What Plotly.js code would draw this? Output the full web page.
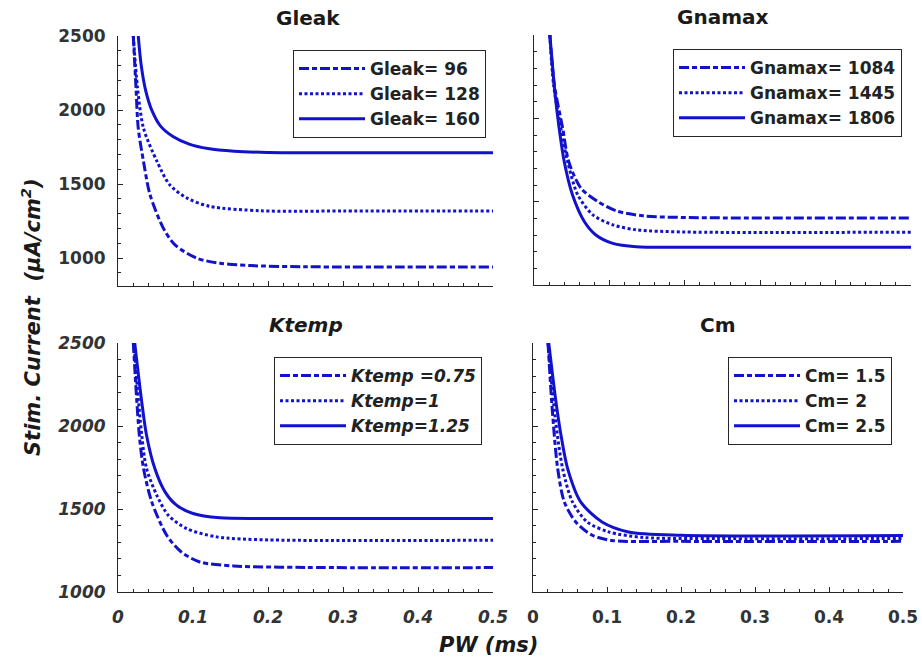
<!DOCTYPE html>
<html><head><meta charset="utf-8">
<script src="https://cdn.plot.ly/plotly-3.0.1.min.js"></script>
<style>html,body{margin:0;padding:0;background:#fff;}#chart{width:922px;height:664px;}</style>
</head><body><div id="chart"></div>
<script>
// ---- data ----
const panelTitles = ['Gleak', 'Gnamax', 'Ktemp', 'Cm'];
const xTitle = 'PW (ms)';
const yTitle = 'Stim. Current  (\u03bcA/cm<sup>2</sup>)';

// Gleak panel
const gleakNames = ['Gleak= 96', 'Gleak= 128', 'Gleak= 160'];
const gleak96_x = [0.0204, 0.024, 0.027, 0.034, 0.0427, 0.0604, 0.076, 0.105, 0.136, 0.176, 0.25, 0.5];
const gleak96_y = [2500, 2150, 1878, 1653, 1428, 1203, 1090, 1000, 966, 950, 942, 940];
const gleak128_x = [0.0204, 0.026, 0.034, 0.052, 0.069, 0.092, 0.123, 0.19, 0.3, 0.5];
const gleak128_y = [2500, 2150, 1878, 1653, 1495, 1405, 1349, 1320, 1318, 1318];
const gleak160_x = [0.027, 0.031, 0.037, 0.045, 0.057, 0.0738, 0.095, 0.12, 0.155, 0.2, 0.3, 0.5];
const gleak160_y = [2500, 2300, 2130, 2000, 1890, 1820, 1770, 1740, 1722, 1714, 1712, 1712];

// Gnamax panel
const gnaNames = ['Gnamax= 1084', 'Gnamax= 1445', 'Gnamax= 1806'];
const gna1084_x = [0.021, 0.027, 0.038, 0.046, 0.0622, 0.0845, 0.109, 0.1445, 0.2, 0.5];
const gna1084_y = [2500, 2200, 1942, 1742, 1581, 1501, 1445, 1415, 1405, 1402];
const gna1445_x = [0.021, 0.026, 0.0356, 0.0445, 0.058, 0.078, 0.1045, 0.1356, 0.2, 0.5];
const gna1445_y = [2500, 2200, 1942, 1742, 1541, 1421, 1361, 1331, 1318, 1317];
const gna1806_x = [0.021, 0.024, 0.028, 0.0333, 0.040, 0.051, 0.0667, 0.082, 0.1045, 0.1356, 0.2, 0.5];
const gna1806_y = [2500, 2344, 2143, 1942, 1742, 1541, 1381, 1300, 1250, 1230, 1227, 1226];

// Ktemp panel
const ktempNames = ['Ktemp =0.75', 'Ktemp=1', 'Ktemp=1.25'];
const kt075_x = [0.0204, 0.0284, 0.034, 0.045, 0.0649, 0.0844, 0.109, 0.154, 0.25, 0.5];
const kt075_y = [2500, 1946, 1745, 1543, 1342, 1241, 1181, 1157, 1148, 1147];
const kt1_x = [0.021, 0.0316, 0.038, 0.0516, 0.067, 0.0916, 0.1316, 0.2, 0.5];
const kt1_y = [2500, 1946, 1745, 1584, 1463, 1382, 1332, 1314, 1312];
const kt125_x = [0.0223, 0.0316, 0.038, 0.049, 0.0627, 0.078, 0.1, 0.1356, 0.2, 0.5];
const kt125_y = [2500, 2147, 1946, 1745, 1603, 1523, 1473, 1447, 1443, 1443];

// Cm panel
const cmNames = ['Cm= 1.5', 'Cm= 2', 'Cm= 2.5'];
const cm15_x = [0.0203, 0.026, 0.0333, 0.0423, 0.0578, 0.08, 0.107, 0.2, 0.5];
const cm15_y = [2500, 2100, 1745, 1543, 1422, 1342, 1310, 1305, 1305];
const cm2_x = [0.0203, 0.03, 0.04, 0.0533, 0.0733, 0.102, 0.15, 0.25, 0.5];
const cm2_y = [2500, 2050, 1745, 1543, 1422, 1362, 1328, 1322, 1322];
const cm25_x = [0.0213, 0.031, 0.0378, 0.0467, 0.0644, 0.0933, 0.129, 0.2, 0.5];
const cm25_y = [2500, 2147, 1946, 1745, 1543, 1422, 1362, 1342, 1340];

// ---- styles ----
const FONT = 'DejaVu Sans';
const BLUE = '#1212cc';
const INK = '#262626';
const dashes = ['10px,3px,5px,3px', '3px,2.5px', 'solid'];

function mk(x, y, name, k, ax, lg) {
  return {
    x: x, y: y, name: name, type: 'scatter', mode: 'lines',
    xaxis: 'x' + ax, yaxis: 'y' + ax, legend: lg,
    line: {color: BLUE, width: 3, dash: dashes[k], shape: 'spline', smoothing: 0.8},
    hoverinfo: 'skip'
  };
}

const data = [
  mk(gleak96_x, gleak96_y, gleakNames[0], 0, '', 'legend'),
  mk(gleak128_x, gleak128_y, gleakNames[1], 1, '', 'legend'),
  mk(gleak160_x, gleak160_y, gleakNames[2], 2, '', 'legend'),
  mk(gna1084_x, gna1084_y, gnaNames[0], 0, '2', 'legend2'),
  mk(gna1445_x, gna1445_y, gnaNames[1], 1, '2', 'legend2'),
  mk(gna1806_x, gna1806_y, gnaNames[2], 2, '2', 'legend2'),
  mk(kt075_x, kt075_y, ktempNames[0], 0, '3', 'legend3'),
  mk(kt1_x, kt1_y, ktempNames[1], 1, '3', 'legend3'),
  mk(kt125_x, kt125_y, ktempNames[2], 2, '3', 'legend3'),
  mk(cm15_x, cm15_y, cmNames[0], 0, '4', 'legend4'),
  mk(cm2_x, cm2_y, cmNames[1], 1, '4', 'legend4'),
  mk(cm25_x, cm25_y, cmNames[2], 2, '4', 'legend4')
];

const W = 922, H = 664;
function xd(l, r) { return [l / W, r / W]; }
function yd(t, b) { return [1 - b / H, 1 - t / H]; }

function xax(dom, anchor, labels, italic) {
  return {
    domain: dom, anchor: anchor, range: [0, 0.5], dtick: 0.1, tick0: 0,
    showline: true, linecolor: INK, linewidth: 1, zeroline: false, showgrid: false,
    ticks: 'inside', ticklen: 5, tickcolor: INK, tickwidth: 1,
    minor: {ticks: 'inside', ticklen: 3, dtick: 0.02, tickcolor: INK, showgrid: false},
    showticklabels: labels, ticklabelstandoff: 10,
    tickfont: {family: FONT, size: 17, color: '#333', weight: 700, style: italic ? 'italic' : 'normal'},
    fixedrange: true
  };
}
function yax(dom, anchor, range, labels, italic) {
  return {
    domain: dom, anchor: anchor, range: range, dtick: 500, tick0: 0,
    showline: true, linecolor: INK, linewidth: 1, zeroline: false, showgrid: false,
    ticks: 'inside', ticklen: 5, tickcolor: INK, tickwidth: 1,
    minor: {ticks: 'inside', ticklen: 3, dtick: 100, tickcolor: INK, showgrid: false},
    showticklabels: labels, ticklabelstandoff: 8,
    tickfont: {family: FONT, size: 17, color: '#333', weight: 700, style: italic ? 'italic' : 'normal'},
    fixedrange: true
  };
}
function leg(l, t, italic) {
  return {
    x: l / W, y: 1 - t / H, xanchor: 'left', yanchor: 'top',
    bgcolor: '#ffffff', bordercolor: INK, borderwidth: 1,
    font: {family: FONT, size: 17, color: '#222', weight: 700, style: italic ? 'italic' : 'normal'},
    itemwidth: 66, traceorder: 'normal', itemclick: false, itemdoubleclick: false
  };
}
function ann(text, cx, cy, size, italic, angle) {
  return {
    text: text, x: cx / W, y: 1 - cy / H, xref: 'paper', yref: 'paper',
    xanchor: 'center', yanchor: 'middle', showarrow: false, textangle: angle || 0,
    font: {family: FONT, size: size, color: '#1a1a1a', weight: 700, style: italic ? 'italic' : 'normal'}
  };
}

const layout = {
  width: W, height: H, margin: {l: 0, r: 0, t: 0, b: 0},
  paper_bgcolor: '#ffffff', plot_bgcolor: '#ffffff', showlegend: true,
  xaxis: xax(xd(118, 493), 'y', false, false),
  yaxis: yax(yd(36, 286), 'x', [812, 2500], true, false),
  xaxis2: xax(xd(534, 911), 'y2', false, false),
  yaxis2: yax(yd(35, 285), 'x2', [1000, 2500], false, false),
  xaxis3: xax(xd(118, 493), 'y3', true, true),
  yaxis3: yax(yd(343, 592), 'x3', [1000, 2500], true, true),
  xaxis4: xax(xd(533, 903), 'y4', true, false),
  yaxis4: yax(yd(343, 592), 'x4', [1000, 2500], false, false),
  legend: leg(293, 50, false),
  legend2: leg(673, 49, false),
  legend3: leg(274, 357, true),
  legend4: leg(728, 357, false),
  annotations: [
    ann(panelTitles[0], 308, 18, 20, false),
    ann(panelTitles[1], 722, 17, 20, false),
    ann(panelTitles[2], 306, 325, 20, true),
    ann(panelTitles[3], 718, 325, 20, false),
    ann(xTitle, 488, 645, 21, true),
    ann(yTitle, 31, 317, 21, true, -90)
  ]
};

Plotly.newPlot('chart', data, layout, {displayModeBar: false, staticPlot: true});
</script></body></html>
